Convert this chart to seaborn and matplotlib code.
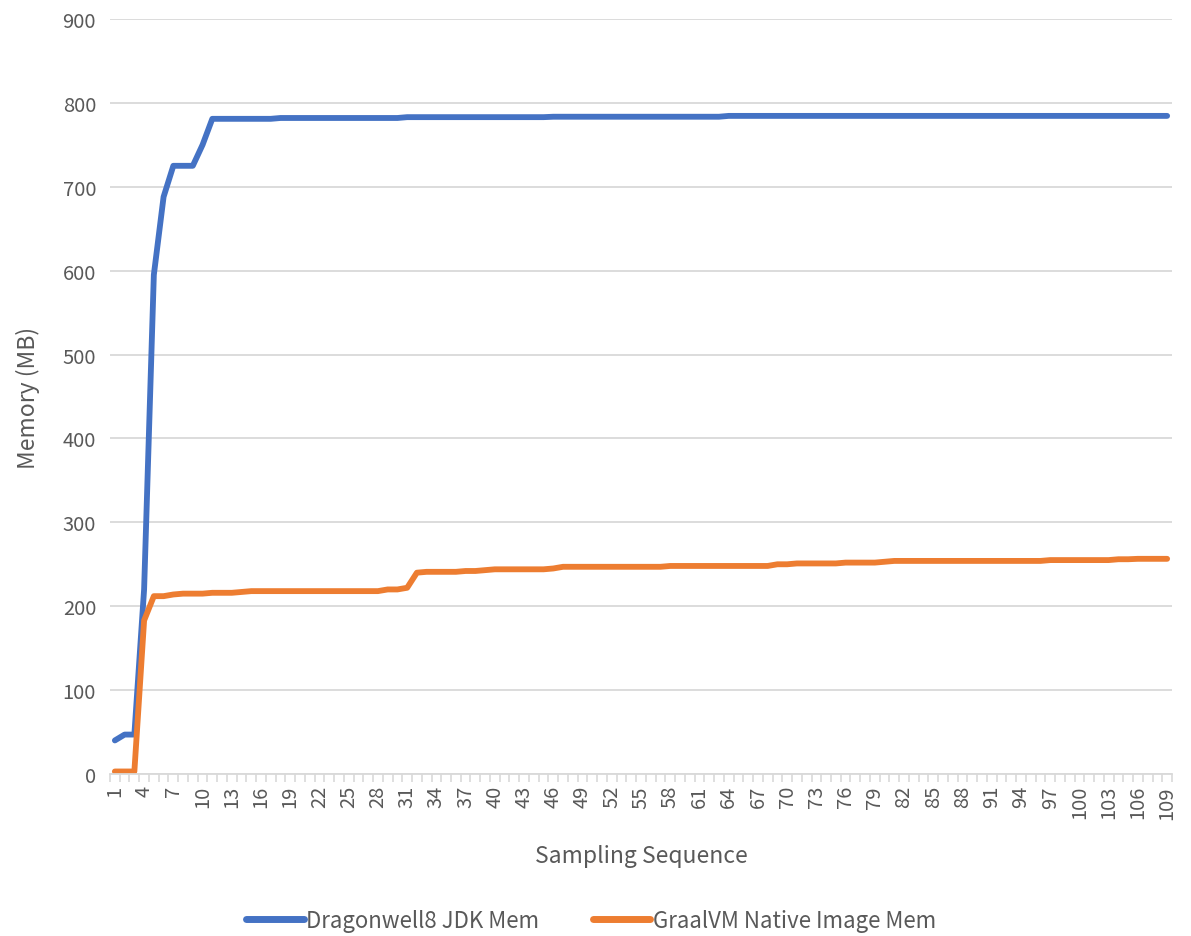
import numpy as np
import pandas as pd
import matplotlib
matplotlib.use("Agg")
import matplotlib.pyplot as plt
from matplotlib.ticker import FixedLocator
import seaborn as sns

# Sampling sequence 1..109
samples = list(range(1, 110))

# Dragonwell8 JDK memory (MB)
dragonwell_mem = (
    [40, 47, 47, 220, 595, 688, 725, 725, 725, 750]
    + [781] * 7        # 11-17
    + [782] * 13       # 18-30
    + [783] * 15       # 31-45
    + [783.5] * 18     # 46-63
    + [784.5] * 46     # 64-109
)

# GraalVM Native Image memory (MB)
graalvm_mem = (
    [3, 3, 3, 183, 212, 212, 214]
    + [215] * 3        # 8-10
    + [216] * 3        # 11-13
    + [217]            # 14
    + [218] * 14       # 15-28
    + [220] * 2        # 29-30
    + [222]            # 31
    + [240]            # 32
    + [241] * 4        # 33-36
    + [242] * 2        # 37-38
    + [243]            # 39
    + [244] * 6        # 40-45
    + [245]            # 46
    + [247] * 11       # 47-57
    + [248] * 11       # 58-68
    + [250] * 2        # 69-70
    + [251] * 5        # 71-75
    + [252] * 4        # 76-79
    + [253]            # 80
    + [254] * 16       # 81-96
    + [255] * 7        # 97-103
    + [256] * 2        # 104-105
    + [256.5] * 4      # 106-109
)

series_names = ["Dragonwell8 JDK Mem", "GraalVM Native Image Mem"]
series_colors = ["#4472C4", "#ED7D31"]

x_labels = [str(i) for i in range(1, 110, 3)]
y_ticks = list(range(0, 1000, 100))

df = pd.DataFrame({
    "Sampling Sequence": samples * 2,
    "Memory (MB)": dragonwell_mem + graalvm_mem,
    "Series": [series_names[0]] * len(samples) + [series_names[1]] * len(samples),
})

sns.set_theme(style="white")
plt.rcParams["font.family"] = ["Noto Sans CJK SC", "DejaVu Sans"]

fig = plt.figure(figsize=(11.91, 9.37), dpi=100)
ax = fig.add_axes([110 / 1191, 162 / 937, 1062 / 1191, 755 / 937])

sns.lineplot(
    data=df, x="Sampling Sequence", y="Memory (MB)", hue="Series",
    palette=series_colors, linewidth=4.2, ax=ax, legend=True,
    solid_capstyle="round", solid_joinstyle="round",
)

ax.set_xlim(0.5, 109.5)
ax.set_ylim(0, 900)

gray_text = "#595959"
grid_color = "#D9D9D9"

ax.set_yticks(y_ticks)
ax.set_yticklabels([str(v) for v in y_ticks], fontsize=14.5, color=gray_text)
ax.yaxis.grid(True, color=grid_color, linewidth=1.3)
ax.set_axisbelow(True)
ax.tick_params(axis="y", length=0, pad=10)

ax.set_xticks(list(range(1, 110, 3)))
ax.set_xticklabels(x_labels, rotation=90, fontsize=14.5, color=gray_text)
ax.xaxis.set_minor_locator(FixedLocator(np.arange(0.5, 110, 1.0)))
ax.tick_params(axis="x", which="major", length=0, pad=8)
ax.tick_params(axis="x", which="minor", length=6, width=1.2, color=grid_color, bottom=True)

for side in ["top", "right", "left"]:
    ax.spines[side].set_visible(False)
ax.spines["bottom"].set_color(grid_color)
ax.spines["bottom"].set_linewidth(1.3)

ax.set_xlabel("Sampling Sequence", fontsize=16.5, color=gray_text, labelpad=18)
ax.set_ylabel("Memory (MB)", fontsize=16.5, color=gray_text, labelpad=16)

handles, labels = ax.get_legend_handles_labels()
for h in handles:
    h.set_linewidth(5)
    h.set_solid_capstyle("round")
ax.legend(
    handles, labels, loc="center", bbox_to_anchor=(0.453, -0.194),
    ncol=2, frameon=False, fontsize=16, handlelength=2.6,
    handletextpad=0.1, columnspacing=2.4, labelcolor=gray_text,
    borderpad=0.1,
)

fig.savefig("out.png", dpi=100, facecolor="white")
